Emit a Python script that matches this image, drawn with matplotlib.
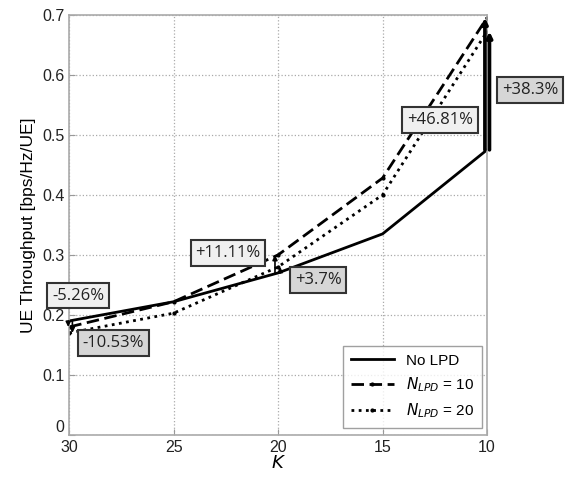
import matplotlib
matplotlib.use("Agg")
import matplotlib.pyplot as plt
from matplotlib.ticker import FuncFormatter

K = [30, 25, 20, 15, 10]
no_lpd = [0.19, 0.222, 0.27, 0.335, 0.475]
n_lpd10 = [0.18, 0.222, 0.30, 0.428, 0.695]
n_lpd20 = [0.17, 0.203, 0.28, 0.40, 0.672]

labels = ["-5.26%", "-10.53%", "+11.11%", "+3.7%", "+46.81%", "+38.3%"]
label_x = [29.57, 27.9, 22.39, 18.09, 12.25, 7.94]
label_y = [0.232, 0.153, 0.303, 0.258, 0.525, 0.575]
label_fill = ["#f0f0f0", "#d6d6d6", "#f0f0f0", "#d6d6d6", "#f0f0f0", "#d6d6d6"]

plt.rcParams['font.family'] = ['Liberation Sans', 'DejaVu Sans']

fig = plt.figure(figsize=(5.77, 4.78), dpi=100)
ax = fig.add_axes([0.12, 0.09, 0.724, 0.879])

ax.plot(K, no_lpd, color='black', lw=2.0, ls='-', label='No LPD')
ax.plot(K, n_lpd10, color='black', lw=2.0, ls=(0, (4.5, 2)), marker='.', markersize=4,
        label='$N_{LPD}$ = 10')
ax.plot(K, n_lpd20, color='black', lw=2.0, ls=(0, (1, 1.6)), marker='.', markersize=4,
        label='$N_{LPD}$ = 20')

# arrows from No LPD to the LPD curves
arrow_pts = [(0, n_lpd10, 30.05, 7, 1.2), (0, n_lpd20, 29.85, 7, 1.2),
             (2, n_lpd10, 20.15, 7, 1.2), (2, n_lpd20, 19.9, 7, 1.2),
             (4, n_lpd10, 10.1, 8, 2.6), (4, n_lpd20, 9.88, 8, 2.6)]
for idx, series, xpos, hl, w in arrow_pts:
    ax.annotate('', xy=(xpos, series[idx]), xytext=(xpos, no_lpd[idx]),
                annotation_clip=False,
                arrowprops=dict(arrowstyle='-|>', color='black', lw=w,
                                mutation_scale=hl, shrinkA=0, shrinkB=0))

for t, x, y, fc in zip(labels, label_x, label_y, label_fill):
    ax.text(x, y, t, ha='center', va='center', fontsize=12, color='#222222',
            family=['Open Sans', 'DejaVu Sans'],
            bbox=dict(boxstyle='square,pad=0.28', fc=fc, ec='#333333', lw=1.5))

ax.set_xlim(30, 10)
ax.set_ylim(0, 0.7)
ax.set_xticks(K)
ax.set_yticks([0, 0.1, 0.2, 0.3, 0.4, 0.5, 0.6, 0.7])
ax.yaxis.set_major_formatter(FuncFormatter(lambda v, p: '0' if v == 0 else f'{v:.1f}'))
ax.grid(True, ls=':', color='#aaaaaa', lw=0.9)
ax.tick_params(direction='in', length=4, color='#999999', labelsize=11.5, labelcolor='#222222')
for s in ax.spines.values():
    s.set_color('#aaaaaa')
    s.set_linewidth(1.2)

ax.set_xlabel('$K$', fontsize=13, labelpad=0)
ax.set_ylabel('UE Throughput [bps/Hz/UE]', fontsize=12.5, labelpad=4)

leg = ax.legend(loc='lower right', fontsize=11, frameon=True, fancybox=False,
                edgecolor='#888888', handlelength=2.8, borderpad=0.5,
                labelspacing=0.5, borderaxespad=0, bbox_to_anchor=(0.988, 0.017))
leg.get_frame().set_linewidth(1.0)

fig.canvas.draw()
ax.get_yticklabels()[0].set_verticalalignment('bottom')

fig.savefig('out.png', dpi=100, facecolor='white')
